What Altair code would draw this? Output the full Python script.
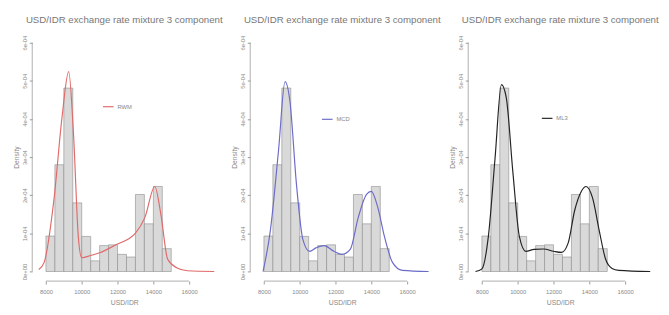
import altair as alt
import pandas as pd

# ---- data ----
bin_left = [8000, 8500, 9000, 9500, 10000, 10500, 11000, 11500, 12000, 12500, 13000, 13500, 14000, 14500]
bin_width = 500
bin_density = [0.93e-4, 2.80e-4, 4.81e-4, 1.80e-4, 0.92e-4, 0.28e-4, 0.68e-4, 0.70e-4,
               0.45e-4, 0.38e-4, 2.02e-4, 1.25e-4, 2.23e-4, 0.60e-4]

red_x = [7600, 7900, 8450, 8900, 9270, 9540, 9810, 10000, 10500, 11000, 11900, 12990, 13530, 14080, 14420, 14800, 15300, 15900, 17400]
red_y = [0.05e-4, 0.24e-4, 1.9e-4, 4.05e-4, 5.24e-4, 3.6e-4, 0.9e-4, 0.36e-4, 0.42e-4, 0.49e-4, 0.70e-4, 1.0e-4, 1.42e-4, 2.23e-4, 1.5e-4, 0.32e-4, 0.10e-4, 0.02e-4, 0.0]

blue_x = [7950, 8360, 8820, 9180, 9450, 9820, 10180, 10550, 10910, 11360, 11910, 12360, 12820, 13270, 13730, 14000, 14360, 14730, 15180, 15730, 17200]
blue_y = [0.0, 1.08e-4, 3.2e-4, 4.98e-4, 4.47e-4, 2.27e-4, 0.83e-4, 0.53e-4, 0.62e-4, 0.68e-4, 0.53e-4, 0.45e-4, 0.58e-4, 1.42e-4, 2.02e-4, 2.1e-4, 1.68e-4, 0.92e-4, 0.24e-4, 0.03e-4, 0.0]

black_x = [7640, 8000, 8360, 8730, 9090, 9360, 9730, 10090, 10450, 10910, 11450, 12000, 12450, 12820, 13180, 13550, 13820, 14180, 14550, 14910, 15270, 15640, 17400]
black_y = [0.0, 0.07e-4, 0.92e-4, 2.95e-4, 4.9e-4, 4.56e-4, 2.6e-4, 0.92e-4, 0.53e-4, 0.58e-4, 0.59e-4, 0.53e-4, 0.5e-4, 0.75e-4, 1.6e-4, 2.1e-4, 2.23e-4, 1.93e-4, 1.08e-4, 0.32e-4, 0.08e-4, 0.03e-4, 0.0]

x_ticks = [8000, 10000, 12000, 14000, 16000]
y_ticks = [0, 1e-4, 2e-4, 3e-4, 4e-4, 5e-4, 6e-4]

title_text = "USD/IDR exchange rate mixture 3 component"
labels = ["RWM", "MCD", "ML3"]
colors = ["#e06a6a", "#6b6bc8", "#222222"]

# ---- layout constants ----
W, H = 182, 248
FONT = "Liberation Sans"

hist_df = pd.DataFrame({
    "lo": bin_left,
    "hi": [b + bin_width for b in bin_left],
    "dens": bin_density,
})
axis_df = pd.DataFrame({"x0": [x_ticks[0]], "x1": [x_ticks[-1]],
                        "y0": [y_ticks[0]], "y1": [y_ticks[-1]]})

xscale = alt.Scale(domain=[7450, 17300], nice=False, zero=False)
yscale = alt.Scale(domain=[-0.000015, 0.000615], nice=False, zero=False)

ylab = "replace(replace(format(datum.value, '.0e'), 'e-', 'e-0'), 'e+', 'e+0')"

xaxis = alt.Axis(values=x_ticks, format="d", domain=False, grid=False, offset=4, tickSize=3,
                 labelFontSize=6, labelColor="#888", tickColor="#999", labelPadding=5,
                 titleFontSize=7, titleColor="#888", titleFontWeight="normal", titlePadding=4)
yaxis = alt.Axis(values=y_ticks, domain=False, grid=False, offset=4, tickSize=3,
                 labelFontSize=6, labelColor="#888", tickColor="#999", labelAngle=270,
                 labelAlign="center", labelBaseline="bottom", labelPadding=2,
                 labelExpr=ylab, minExtent=10, maxExtent=10,
                 titleFontSize=7, titleColor="#888", titleFontWeight="normal", titlePadding=3)


def X(field):
    return alt.X(field, scale=xscale, axis=xaxis, title="USD/IDR")


def Y(field):
    return alt.Y(field, scale=yscale, axis=yaxis, title="Density")


def panel(cx, cy, color, label, lx, ly):
    bars = alt.Chart(hist_df).mark_bar(fill="#d9d9d9", stroke="#8a8a8a", strokeWidth=0.6).encode(
        x=X("lo:Q"), x2="hi:Q", y=Y("dens:Q"), y2=alt.datum(0),
    )
    curve = alt.Chart(pd.DataFrame({"x": cx, "y": cy})).mark_line(
        color=color, strokeWidth=1.2, interpolate="monotone").encode(
        x=X("x:Q"), y=Y("y:Q"),
    )
    xrule = alt.Chart(axis_df).mark_rule(color="#999", strokeWidth=0.8).encode(
        x=X("x0:Q"), x2="x1:Q", y=alt.value(H + 4))
    yrule = alt.Chart(axis_df).mark_rule(color="#999", strokeWidth=0.8).encode(
        y=Y("y0:Q"), y2="y1:Q", x=alt.value(-4))
    leg_line = alt.Chart(pd.DataFrame({"l": [label]})).mark_rule(color=color, strokeWidth=1.2).encode(
        x=alt.value(lx), x2=alt.value(lx + 11), y=alt.value(ly))
    leg_text = alt.Chart(pd.DataFrame({"l": [label]})).mark_text(
        align="left", baseline="middle", fontSize=6, color="#888", font=FONT).encode(
        text="l:N", x=alt.value(lx + 15), y=alt.value(ly))
    return alt.layer(bars, curve, xrule, yrule, leg_line, leg_text).properties(
        width=W, height=H,
        title=alt.TitleParams(title_text, fontSize=10, color="#777", fontWeight="normal",
                              anchor="middle", frame="group", offset=11, font=FONT),
    )


p1 = panel(red_x, red_y, colors[0], labels[0], 69, 72)
p2 = panel(blue_x, blue_y, colors[1], labels[1], 70, 85)
p3 = panel(black_x, black_y, colors[2], labels[2], 72, 84)

chart = alt.hconcat(p1, p2, p3, spacing=8).properties(
    padding={"left": 5, "top": 2, "right": 2, "bottom": 2}
).configure(font=FONT, background="white", view=alt.ViewConfig(stroke=None))

chart.save("out.html", embed_options={"renderer": "svg", "actions": False})
